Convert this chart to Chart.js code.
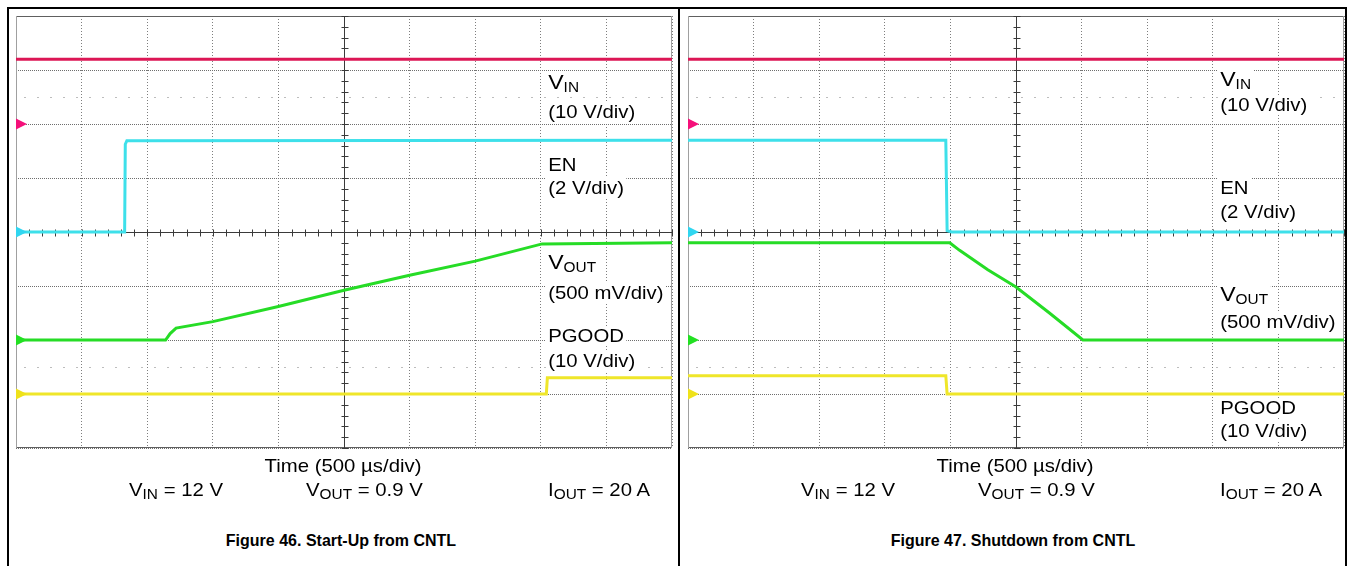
<!DOCTYPE html>
<html>
<head>
<meta charset="utf-8">
<script src="https://cdn.jsdelivr.net/npm/chart.js@4.4.1/dist/chart.umd.min.js"></script>
<style>
html,body{margin:0;padding:0;background:#fff;}
body{width:1351px;height:566px;position:relative;overflow:hidden;font-family:"Liberation Sans",Arial,Helvetica,sans-serif;color:#000;}
.ln{position:absolute;background:#000;}
canvas{position:absolute;}
.t{position:absolute;white-space:nowrap;font-size:18.5px;line-height:18px;transform-origin:0 0;transform:scaleX(1.1);}
.lab{background:#fff;padding:1px 2px;}
.big{font-size:21px;}
.sub{font-size:14px;position:relative;top:3px;}
.c{position:absolute;white-space:nowrap;font-size:18.5px;line-height:18px;width:400px;text-align:center;transform-origin:50% 0;transform:scaleX(1.1);}
.fig{position:absolute;white-space:nowrap;font-size:16.5px;line-height:17px;font-weight:bold;width:400px;text-align:center;transform-origin:50% 0;transform:scaleX(0.97);}
</style>
</head>
<body>
<div class="ln" style="left:7px;top:7px;width:1340px;height:2px;"></div>
<div class="ln" style="left:7px;top:7px;width:2px;height:559px;"></div>
<div class="ln" style="left:678px;top:7px;width:2px;height:559px;"></div>
<div class="ln" style="left:1345px;top:7px;width:2px;height:559px;"></div>

<canvas id="c46" width="668" height="448" style="left:10px;top:10px;width:668px;height:448px;"></canvas>
<canvas id="c47" width="664" height="448" style="left:682px;top:10px;width:664px;height:448px;"></canvas>

<!-- channel labels, Figure 46 -->
<div class="t lab" style="left:546px;top:72px;"><span class="big">V</span><span class="sub">IN</span></div>
<div class="t lab" style="left:546px;top:102px;">(10 V/div)</div>
<div class="t lab" style="left:546px;top:155px;">EN</div>
<div class="t lab" style="left:546px;top:178px;">(2 V/div)</div>
<div class="t lab" style="left:546px;top:252px;"><span class="big">V</span><span class="sub">OUT</span></div>
<div class="t lab" style="left:546px;top:283px;">(500 mV/div)</div>
<div class="t lab" style="left:546px;top:326px;">PGOOD</div>
<div class="t lab" style="left:546px;top:351px;">(10 V/div)</div>

<!-- channel labels, Figure 47 -->
<div class="t lab" style="left:1218px;top:69px;"><span class="big">V</span><span class="sub">IN</span></div>
<div class="t lab" style="left:1218px;top:95px;">(10 V/div)</div>
<div class="t lab" style="left:1218px;top:178px;">EN</div>
<div class="t lab" style="left:1218px;top:202px;">(2 V/div)</div>
<div class="t lab" style="left:1218px;top:284px;"><span class="big">V</span><span class="sub">OUT</span></div>
<div class="t lab" style="left:1218px;top:312px;">(500 mV/div)</div>
<div class="t lab" style="left:1218px;top:398px;">PGOOD</div>
<div class="t lab" style="left:1218px;top:421px;">(10 V/div)</div>

<!-- bottom texts, Figure 46 -->
<div class="c" style="left:143px;top:457px;">Time (500 µs/div)</div>
<div class="t" style="left:129px;top:481px;">V<span class="sub">IN</span> = 12 V</div>
<div class="t" style="left:306px;top:481px;">V<span class="sub">OUT</span> = 0.9 V</div>
<div class="t" style="left:548px;top:481px;">I<span class="sub">OUT</span> = 20 A</div>
<div class="fig" style="left:141px;top:532px;">Figure 46. Start-Up from CNTL</div>

<!-- bottom texts, Figure 47 -->
<div class="c" style="left:815px;top:457px;">Time (500 µs/div)</div>
<div class="t" style="left:801px;top:481px;">V<span class="sub">IN</span> = 12 V</div>
<div class="t" style="left:978px;top:481px;">V<span class="sub">OUT</span> = 0.9 V</div>
<div class="t" style="left:1220px;top:481px;">I<span class="sub">OUT</span> = 20 A</div>
<div class="fig" style="left:813px;top:532px;">Figure 47. Shutdown from CNTL</div>

<script>
// ---------- data (time in µs, values in V) ----------
const timeMin = 0;
const timeMax = 5000;
const timePerDiv = 500;
const divTicks = [-4, -3, -2, -1, 0, 1, 2, 3, 4];

// Figure 46: Start-Up from CNTL
const f46_vinTime  = [0, 5000];
const f46_vin      = [12, 12];
const f46_enTime   = [0, 828, 833, 845, 5000];
const f46_en       = [0, 0, 3.25, 3.38, 3.4];
const f46_voutTime = [0, 1140, 1175, 1220, 1500, 2000, 2500, 3000, 3500, 4010, 5000];
const f46_vout     = [0, 0, 0.06, 0.11, 0.17, 0.31, 0.46, 0.60, 0.73, 0.89, 0.90];
const f46_pgTime   = [0, 4042, 4050, 5000];
const f46_pg       = [0, 0, 3.0, 3.0];

// Figure 47: Shutdown from CNTL
const f47_vinTime  = [0, 5000];
const f47_vin      = [12, 12];
const f47_enTime   = [0, 1965, 1975, 2010, 5000];
const f47_en       = [3.4, 3.4, 0.05, 0, 0];
const f47_voutTime = [0, 1995, 2070, 2285, 2500, 2755, 3010, 5000];
const f47_vout     = [0.9, 0.9, 0.83, 0.65, 0.49, 0.25, 0, 0];
const f47_pgTime   = [0, 1965, 1975, 5000];
const f47_pg       = [3.4, 3.4, 0, 0];

// channel settings: volts per division, ground marker position (div from centre)
const chNames   = ['VIN', 'EN', 'VOUT', 'PG'];
const chVdiv    = [10, 2, 0.5, 10];
const chGround  = [2, 0, -2, -3];
const chColor   = ['#dc1655', '#3ee0ea', '#26dc26', '#efe62a'];
const chMarker  = ['#f5107a', '#30d6f0', '#22e022', '#efe21a'];

function pts(t, v) { return t.map((x, i) => ({ x: x, y: v[i] })); }

const scopePlugin = {
  id: 'scope',
  beforeDatasetsDraw(chart) {
    const { ctx, chartArea: a, scales } = chart;
    const xs = scales.x, ys = scales.y;
    ctx.save();
    // faint reference dots at +/-2.5 div
    ctx.strokeStyle = '#bdbdbd';
    ctx.lineWidth = 1;
    ctx.setLineDash([2, 11]);
    [2.5, -2.5].forEach(d => {
      const y = Math.round(ys.getPixelForValue(d)) + 0.5;
      ctx.beginPath(); ctx.moveTo(a.left + 8, y); ctx.lineTo(a.right, y); ctx.stroke();
    });
    ctx.setLineDash([]);
    // frame
    ctx.strokeStyle = '#606060';
    ctx.beginPath();
    ctx.moveTo(a.left, a.top + 0.5); ctx.lineTo(a.right, a.top + 0.5);
    ctx.moveTo(a.left, a.bottom - 0.5); ctx.lineTo(a.right, a.bottom - 0.5);
    ctx.stroke();
    ctx.strokeStyle = '#a0a0a0';
    ctx.beginPath();
    ctx.moveTo(a.left + 0.5, a.top); ctx.lineTo(a.left + 0.5, a.bottom);
    ctx.moveTo(a.right - 0.5, a.top); ctx.lineTo(a.right - 0.5, a.bottom);
    ctx.stroke();
    // centre cross with minor ticks
    const cx = Math.round(xs.getPixelForValue((timeMin + timeMax) / 2)) + 0.5;
    const cy = Math.round(ys.getPixelForValue(0)) + 0.5;
    ctx.strokeStyle = '#3a3a3a';
    ctx.beginPath();
    ctx.moveTo(a.left, cy); ctx.lineTo(a.right, cy);
    ctx.moveTo(cx, a.top); ctx.lineTo(cx, a.bottom);
    for (let t = timeMin; t <= timeMax; t += timePerDiv / 5) {
      const px = Math.round(xs.getPixelForValue(t)) + 0.5;
      ctx.moveTo(px, cy - 3); ctx.lineTo(px, cy + 4);
    }
    for (let k = -20; k <= 20; k++) {
      const py = Math.round(ys.getPixelForValue(k / 5)) + 0.5;
      ctx.moveTo(cx - 3, py); ctx.lineTo(cx + 4, py);
    }
    ctx.stroke();
    ctx.restore();
  },
  afterDatasetsDraw(chart) {
    const { ctx, chartArea: a, scales } = chart;
    ctx.save();
    chNames.forEach((n, i) => {
      const y = scales['y' + n].getPixelForValue(0);
      ctx.fillStyle = chMarker[i];
      ctx.beginPath();
      ctx.moveTo(a.left, y - 5.5); ctx.lineTo(a.left + 11, y); ctx.lineTo(a.left, y + 5.5);
      ctx.closePath(); ctx.fill();
    });
    ctx.restore();
  }
};

function makeScope(id, series, pad) {
  const datasets = series.map((s, i) => ({
    data: pts(s[0], s[1]),
    yAxisID: 'y' + chNames[i],
    borderColor: chColor[i],
    borderWidth: 3,
    pointRadius: 0,
    tension: 0,
    fill: false
  }));
  const scales = {
    x: {
      type: 'linear', min: timeMin, max: timeMax,
      ticks: { display: false, stepSize: timePerDiv },
      grid: { drawTicks: false, color: '#7e7e7e',
        lineWidth: c => (c.tick && c.tick.value === (timeMin + timeMax) / 2) ? 0 : 1 },
      border: { display: false, dash: [1, 2] }
    },
    y: {
      type: 'linear', min: divTicks[0], max: divTicks[divTicks.length - 1],
      afterBuildTicks: sc => { sc.ticks = divTicks.map(v => ({ value: v })); },
      ticks: { display: false },
      grid: { drawTicks: false, color: '#6e6e6e',
        lineWidth: c => (c.tick && c.tick.value === 0) ? 0 : 1 },
      border: { display: false, dash: [1, 1] }
    }
  };
  chNames.forEach((n, i) => {
    scales['y' + n] = { type: 'linear', display: false,
      min: -(4 + chGround[i]) * chVdiv[i], max: (4 - chGround[i]) * chVdiv[i] };
  });
  return new Chart(document.getElementById(id), {
    type: 'line',
    data: { datasets },
    options: {
      responsive: false, animation: false, devicePixelRatio: 1, events: [],
      layout: { padding: pad },
      plugins: { legend: { display: false }, tooltip: { enabled: false } },
      scales
    },
    plugins: [scopePlugin]
  });
}

makeScope('c46', [[f46_vinTime, f46_vin], [f46_enTime, f46_en], [f46_voutTime, f46_vout], [f46_pgTime, f46_pg]],
  { left: 6, top: 6, right: 6, bottom: 10 });
makeScope('c47', [[f47_vinTime, f47_vin], [f47_enTime, f47_en], [f47_voutTime, f47_vout], [f47_pgTime, f47_pg]],
  { left: 6, top: 6, right: 2, bottom: 10 });
</script>
</body>
</html>
